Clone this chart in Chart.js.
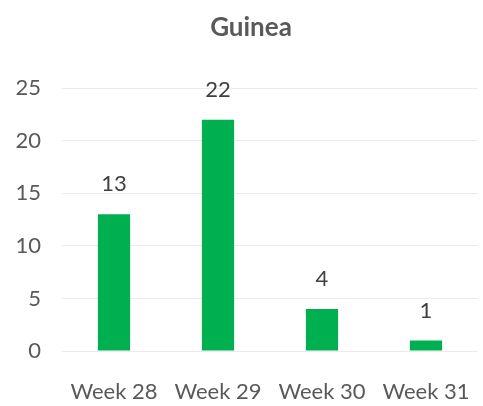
<!DOCTYPE html>
<html>
<head>
<meta charset="utf-8">
<script src="https://cdn.jsdelivr.net/npm/chart.js@4"></script>
<style>
  html, body { margin: 0; padding: 0; background: #fff; }
  #wrap { width: 483px; height: 406px; }
</style>
</head>
<body>
<div id="wrap"><canvas id="guineaChart"></canvas></div>
<script>
const weeks = ['Week 28', 'Week 29', 'Week 30', 'Week 31'];
const cases = [13, 22, 4, 1];
const yTicks = [0, 5, 10, 15, 20, 25];

// draws the value above each bar
const barValues = {
    id: 'barValues',
    afterLayout(chart) {
        // title sits a bit right of the canvas centre in the original
        if (chart.titleBlock) {
            chart.titleBlock.left += 12;
            chart.titleBlock.right += 12;
        }
    },
    afterDatasetsDraw(chart) {
        const ctx = chart.ctx;
        ctx.save();
        ctx.font = '22px Lato';
        ctx.fillStyle = '#404040';
        ctx.textAlign = 'center';
        ctx.textBaseline = 'middle';
        chart.getDatasetMeta(0).data.forEach((bar, i) => {
            ctx.fillText(chart.data.datasets[0].data[i], bar.x, bar.y - 30);
        });
        ctx.restore();
    }
};

new Chart(
    document.getElementById('guineaChart'),
    {
        type: 'bar',
        data: {
            labels: weeks,
            datasets: [
                {
                    label: 'Guinea',
                    data: cases,
                    backgroundColor: '#00B050',
                    barPercentage: 0.31,
                    categoryPercentage: 1
                }
            ]
        },
        options: {
            responsive: true,
            maintainAspectRatio: false,
            animation: false,
            layout: { padding: { top: 0, right: 5, left: 0, bottom: 0 } },
            plugins: {
                legend: { display: false },
                tooltip: { enabled: false },
                title: {
                    display: true,
                    text: 'Guinea',
                    color: '#595959',
                    font: { family: 'Lato', size: 26, weight: 'bold' },
                    padding: { top: 12, bottom: 45 }
                }
            },
            scales: {
                x: {
                    grid: { display: false, drawTicks: false },
                    border: { display: false },
                    ticks: {
                        color: '#595959',
                        font: { family: 'Lato', size: 22 },
                        padding: 28,
                        maxRotation: 0,
                        autoSkip: false
                    },
                    afterFit: s => {
                        s.height = 55;
                        s.paddingLeft = 0;
                        s.paddingRight = 0;
                    }
                },
                y: {
                    min: 0,
                    max: 25,
                    afterBuildTicks: s => { s.ticks = yTicks.map(v => ({ value: v })); },
                    grid: { color: '#ebebeb', drawTicks: false },
                    border: { display: false },
                    ticks: {
                        color: '#595959',
                        font: { family: 'Lato', size: 22 },
                        padding: 21
                    },
                    afterFit: s => { s.width = 62; }
                }
            }
        },
        plugins: [barValues]
    });
</script>
</body>
</html>
